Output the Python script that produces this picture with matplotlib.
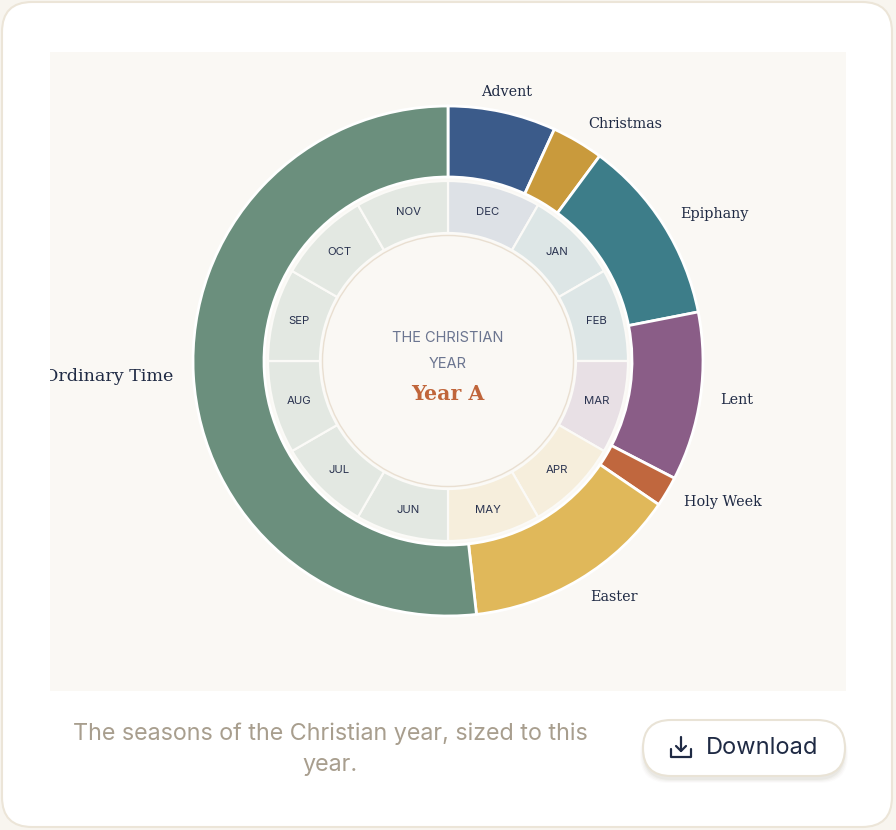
import numpy as np
import matplotlib.pyplot as plt
from matplotlib.patches import FancyBboxPatch, Rectangle, Circle

# dados: estações do ano litúrgico (dias) e meses
seasons = ['Advent', 'Christmas', 'Epiphany', 'Lent', 'Holy Week', 'Easter', 'Ordinary Time']
season_days = [25, 12, 43, 39, 7, 50, 189]
season_colors = ['#3b5b8a', '#c99a3c', '#3d7d89', '#8a5d87', '#c0673e', '#e0b85a', '#6b8f7d']

months = ['DEC', 'JAN', 'FEB', 'MAR', 'APR', 'MAY', 'JUN', 'JUL', 'AUG', 'SEP', 'OCT', 'NOV']
month_share = [1] * 12
month_colors = ['#dde1e6', '#dde6e6', '#dde6e6', '#e8e0e5', '#f6eedc', '#f6eedc',
                '#e3e8e2', '#e3e8e2', '#e3e8e2', '#e3e8e2', '#e3e8e2', '#e3e8e2']

title_lines = ['THE CHRISTIAN', 'YEAR']
subtitle = 'Year A'
caption = 'The seasons of the Christian year, sized to this\nyear.'
button_text = 'Download'

W, H = 896, 830
PANEL = '#faf8f4'
INK = '#1f2a44'

fig = plt.figure(figsize=(W / 100, H / 100), dpi=100, facecolor='#f8f5ef')

# fundo (coordenadas em pixels)
bg = fig.add_axes([0, 0, 1, 1])
bg.set_xlim(0, W)
bg.set_ylim(H, 0)
bg.axis('off')
bg.add_patch(FancyBboxPatch((2, 2), 890, 825, boxstyle='round,pad=0,rounding_size=30',
                            fc='white', ec='#ece5d8', lw=1.5))
bg.add_patch(Rectangle((50, 52), 796, 639, fc=PANEL, ec='none'))

# legenda e botao
bg.text(330, 749, caption, ha='center', va='center', fontsize=16.8, color='#a89e8e',
        family='Inter', linespacing=1.5)
for i, a in enumerate([0.05, 0.04, 0.03, 0.02]):
    bg.add_patch(FancyBboxPatch((643 - i, 724 + i), 202 + 2 * i, 56, boxstyle='round,pad=0,rounding_size=28',
                                fc='#6b5f45', ec='none', alpha=a))
bg.add_patch(FancyBboxPatch((643, 720), 202, 56, boxstyle='round,pad=0,rounding_size=28',
                            fc='white', ec='#e9e3d6', lw=1.5))
bg.text(706, 748, button_text, ha='left', va='center', fontsize=17, color=INK, family='Inter')
# icone de download
bg.plot([671, 671, 691, 691], [749, 757, 757, 749], color=INK, lw=1.6, solid_capstyle='round')
bg.plot([681, 681], [737, 751], color=INK, lw=1.6, solid_capstyle='round')
bg.plot([676, 681, 686], [746, 751, 746], color=INK, lw=1.6, solid_capstyle='round',
        solid_joinstyle='round')

# rosca
cx, cy = 448, 361
ax = fig.add_axes([50 / W, (H - 691) / H, 796 / W, 639 / H])
ax.pie(season_days, colors=season_colors, startangle=90, counterclock=False, radius=255,
       wedgeprops=dict(width=71, edgecolor='white', linewidth=2))
ax.pie(month_share, colors=month_colors, startangle=90, counterclock=False, radius=180,
       wedgeprops=dict(width=52, edgecolor='#fbfaf7', linewidth=1.6))
ax.add_patch(Circle((0, 0), 125.5, fc=PANEL, ec='#e9dfd1', lw=1))
ax.set_xlim(50 - cx, 846 - cx)
ax.set_ylim(cy - 691, cy - 52)
ax.set_aspect('equal')
ax.axis('off')

# rotulos das estacoes
total = sum(season_days)
start = 0
for name, d in zip(seasons, season_days):
    th = np.deg2rad((start + d / 2) / total * 360)
    start += d
    x, y = 275 * np.sin(th), 275 * np.cos(th)
    if abs(np.sin(th)) < 0.35:
        ha = 'center'
    elif x > 0:
        ha = 'left'
    else:
        ha = 'right'
    fs = 12.6 if d > 100 else 10.4
    ax.text(x, y, name, ha=ha, va='center', fontsize=fs, family='DejaVu Serif',
            color=INK, clip_on=True)

# rotulos dos meses
for i, m in enumerate(months):
    th = np.deg2rad((i + 0.5) * 30)
    ax.text(154 * np.sin(th), 154 * np.cos(th), m, ha='center', va='center',
            fontsize=8.2, family='Inter', color='#2a3350')

ax.text(0, 23, title_lines[0], ha='center', va='center', fontsize=10.5, family='Inter', color='#6b7590')
ax.text(0, -3, title_lines[1], ha='center', va='center', fontsize=10.5, family='Inter', color='#6b7590')
ax.text(0, -33, subtitle, ha='center', va='center', fontsize=14.8, family='DejaVu Serif',
        weight='bold', color='#c0653a')

fig.savefig('out.png', dpi=100, facecolor=fig.get_facecolor())
